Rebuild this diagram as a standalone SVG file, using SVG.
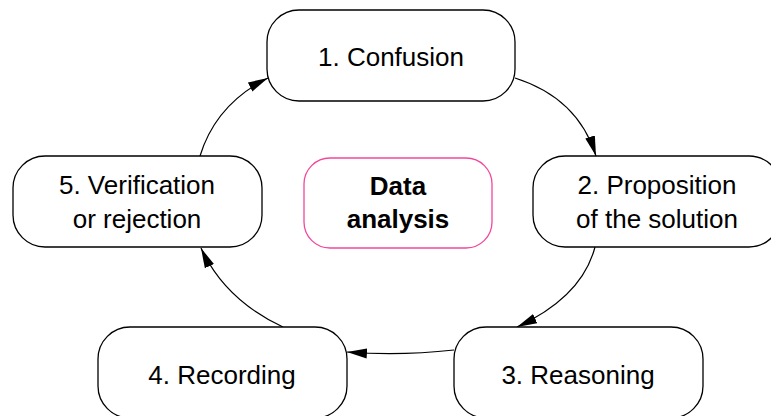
<svg xmlns="http://www.w3.org/2000/svg" width="771" height="416" viewBox="0 0 771 416">
<defs>
<style>
.box{fill:#fff;stroke:#000;stroke-width:1.3}
.center{fill:#fff;stroke:#f2479b;stroke-width:1.3}
.lbl{font-family:"Liberation Sans",Arial,Helvetica,sans-serif;font-size:26px;fill:#000;text-anchor:middle}
.bold{font-weight:bold}
.edge{fill:none;stroke:#000;stroke-width:1.2}
</style>
<marker id="arr" markerUnits="userSpaceOnUse" markerWidth="22" markerHeight="12" refX="20" refY="5.5" orient="auto">
<path d="M0,0.5 L20,5.5 L0,10.5 z" fill="#000"/>
</marker>
</defs>
<rect width="771" height="416" fill="#fff"/>
<g id="connectors">
<path class="edge" d="M515,78 Q578,98 596,156" marker-end="url(#arr)"/>
<path class="edge" d="M595,247 Q582,297 517,327" marker-end="url(#arr)"/>
<path class="edge" d="M454,350 Q400,356 347,352" marker-end="url(#arr)"/>
<path class="edge" d="M283,327 Q225,300 201,248" marker-end="url(#arr)"/>
<path class="edge" d="M200,156 Q216,104 268,78" marker-end="url(#arr)"/>
</g>
<g id="node1">
<rect class="box" x="267" y="10" width="248" height="91" rx="32"/>
<text class="lbl" x="391" y="66">1. Confusion</text>
</g>
<g id="node2">
<rect class="box" x="533" y="156" width="248" height="91" rx="32"/>
<text class="lbl" x="657" y="194">2. Proposition</text>
<text class="lbl" x="657" y="228">of the solution</text>
</g>
<g id="node3">
<rect class="box" x="454" y="327" width="249" height="91" rx="32"/>
<text class="lbl" x="578" y="384">3. Reasoning</text>
</g>
<g id="node4">
<rect class="box" x="98" y="327" width="249" height="91" rx="32"/>
<text class="lbl" x="222" y="384">4. Recording</text>
</g>
<g id="node5">
<rect class="box" x="13" y="156" width="249" height="91" rx="32"/>
<text class="lbl" x="137" y="194">5. Verification</text>
<text class="lbl" x="137" y="228">or rejection</text>
</g>
<g id="center">
<rect class="center" x="304" y="158" width="188" height="90" rx="26"/>
<text class="lbl bold" x="398" y="195">Data</text>
<text class="lbl bold" x="398" y="228">analysis</text>
</g>
</svg>
